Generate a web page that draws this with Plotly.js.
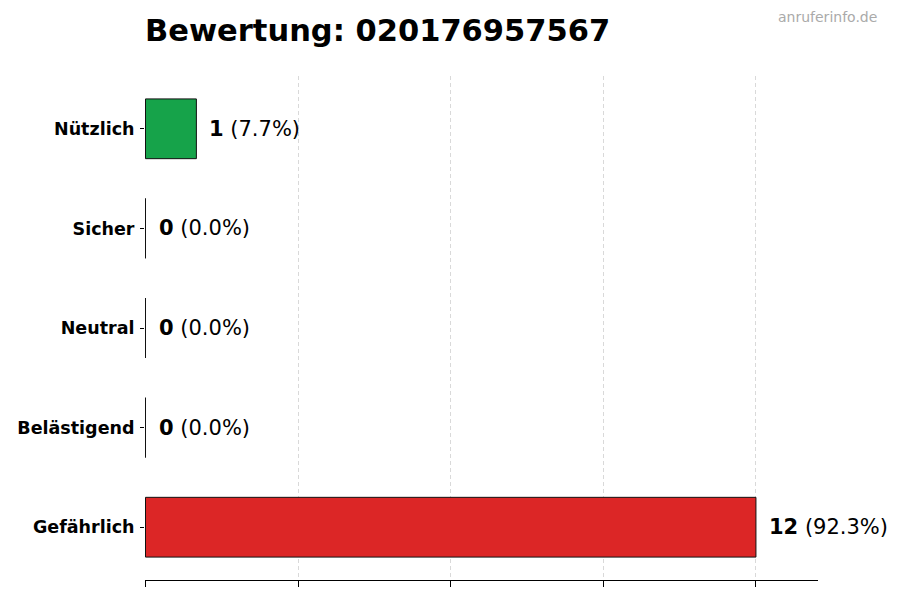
<!DOCTYPE html>
<html>
<head>
<meta charset="utf-8">
<script src="https://cdn.plot.ly/plotly-3.0.1.min.js"></script>
<style>body{margin:0;background:#fff}#chart{width:900px;height:600px}</style>
</head>
<body>
<div id="chart"></div>
<script>
// Kategorien von unten nach oben
const categories = ["Gefährlich", "Belästigend", "Neutral", "Sicher", "Nützlich"];
const counts = [12, 0, 0, 0, 1];
const percents = ["92.3%", "0.0%", "0.0%", "0.0%", "7.7%"];
const colors = ["#dc2626", "#f97316", "#9ca3af", "#2563eb", "#16a34a"];
const gridTicks = [0, 3, 6, 9, 12];

const font = "DejaVu Sans, sans-serif";

const trace = {
    type: "bar",
    orientation: "h",
    x: counts,
    y: categories,
    width: 0.6,
    marker: {color: colors, line: {color: "#111", width: 1}},
    hoverinfo: "skip"
};

const annotations = counts.map((c, i) => ({
    x: c,
    y: categories[i],
    xref: "x",
    yref: "y",
    xanchor: "left",
    yanchor: "middle",
    xshift: 11,
    showarrow: false,
    text: "<b>" + c + "</b> (" + percents[i] + ")",
    font: {family: font, size: 21, color: "#000"}
}));

annotations.push({
    xref: "paper", yref: "paper",
    x: 1.09, y: 1.117,
    xanchor: "right", yanchor: "middle",
    showarrow: false,
    text: "anruferinfo.de",
    font: {family: font, size: 14, color: "#aaa"}
});

const layout = {
    width: 900,
    height: 600,
    margin: {l: 145, r: 82, t: 76, b: 20},
    paper_bgcolor: "#fff",
    plot_bgcolor: "#fff",
    showlegend: false,
    title: {
        text: "<b>Bewertung: 020176957567</b>",
        font: {family: font, size: 30.5, color: "#000"},
        xref: "paper", x: 0, xanchor: "left",
        yref: "container", y: 0.95, yanchor: "middle"
    },
    xaxis: {
        range: [-0.01, 13.22],
        tickvals: gridTicks,
        showticklabels: false,
        ticks: "outside",
        ticklen: 6,
        tickcolor: "#000",
        showgrid: true,
        gridcolor: "#d9d9d9",
        griddash: "4px,3px",
        gridwidth: 1,
        showline: true,
        linecolor: "#000",
        linewidth: 1,
        zeroline: false,
        fixedrange: true
    },
    yaxis: {
        type: "category",
        categoryorder: "array",
        categoryarray: categories,
        range: [-0.53, 4.53],
        ticks: "outside",
        ticklen: 4,
        tickcolor: "#000",
        ticklabelstandoff: 2,
        showline: false,
        showgrid: false,
        zeroline: false,
        tickfont: {family: font, size: 17.5, color: "#000", weight: "bold"},
        fixedrange: true
    },
    annotations: annotations
};

Plotly.newPlot("chart", [trace], layout, {displayModeBar: false, staticPlot: true});
</script>
</body>
</html>
